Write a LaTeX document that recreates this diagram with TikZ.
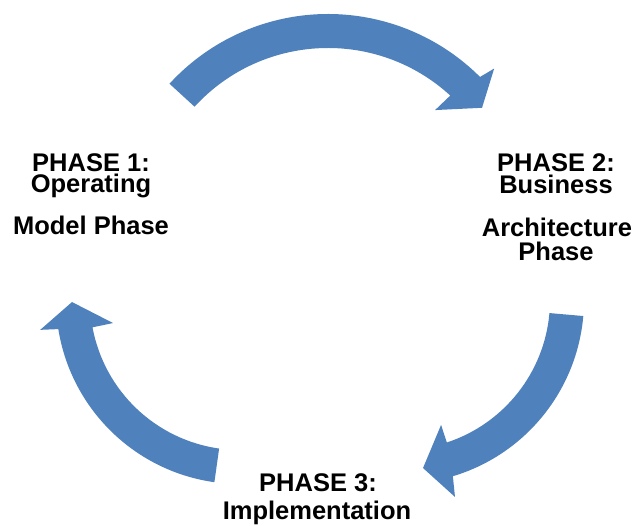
\documentclass[tikz,border=0pt]{standalone}
\usepackage{fontspec}
\setmainfont{Liberation Sans}
\definecolor{arrowblue}{HTML}{4F81BD}
\tikzset{
  cyclearrow/.style={fill=arrowblue, draw=none},
  phasetext/.style={anchor=base, inner sep=0pt, font=\bfseries\fontsize{25.5}{25.5}\selectfont, text=black}
}
\begin{document}
\begin{tikzpicture}[x=1pt,y=1pt]
\useasboundingbox (0,0) rectangle (634,526);
% top arrow: Phase 1 -> Phase 2
\begin{scope}[shift={(328,297)}]
\fill[cyclearrow] (137.5:215) arc[start angle=137.5,end angle=45,radius=215pt]
  -- (44:231) -- (38.2:196) -- (48:160) -- (47.5:181)
  arc[start angle=47.5,end angle=137.5,radius=181pt] -- cycle;
\end{scope}
% right arrow: Phase 2 -> Phase 3
\begin{scope}[shift={(400,226)}]
\fill[cyclearrow] (-5:184) arc[start angle=-5,end angle=-73.3,radius=184pt]
  -- (-74.4:204.5) -- (-82.2:169.6) -- (-71.8:131.5) -- (-71.8:150)
  arc[start angle=-71.8,end angle=-5,radius=150pt] -- cycle;
\end{scope}
% left arrow: Phase 3 -> Phase 1
\begin{scope}[shift={(240,226)}]
\fill[cyclearrow] (262:184) arc[start angle=262,end angle=189.1,radius=184pt]
  -- (188.5:202) -- (180.7:168) -- (190.3:129) -- (190.5:150)
  arc[start angle=190.5,end angle=262,radius=150pt] -- cycle;
\end{scope}
% Phase 1
\node[phasetext] (p1a) at (91,354) {PHASE 1:};
\node[phasetext] (p1b) at (91,333) {Operating};
\node[phasetext] (p1c) at (91,291) {Model Phase};
% Phase 2
\node[phasetext] (p2a) at (556,354) {PHASE 2:};
\node[phasetext] (p2b) at (556,332) {Business};
\node[phasetext] (p2c) at (557,289) {Architecture};
\node[phasetext] (p2d) at (556,265) {Phase};
% Phase 3
\node[phasetext] (p3a) at (318,34) {PHASE 3:};
\node[phasetext] (p3b) at (317,6) {Implementation};
\end{tikzpicture}
\end{document}
